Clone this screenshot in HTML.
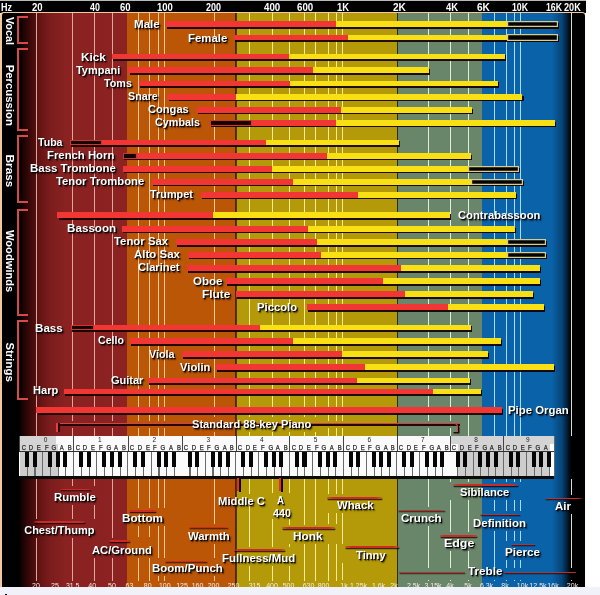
<!DOCTYPE html>
<html><head><meta charset="utf-8"><title>Frequency Chart</title>
<style>
html,body{margin:0;padding:0;background:#fff;}
body{width:600px;height:595px;position:relative;overflow:hidden;font-family:"Liberation Sans", Arial, sans-serif;}
body>div,body>span{position:absolute;}
span{white-space:nowrap;transform-origin:0 0;}
.hd{color:#fff;font-weight:bold;font-size:10.5px;line-height:12px;}
.lb{color:#fff;font-weight:bold;font-size:11px;line-height:14px;text-shadow:1px 1px 0 rgba(0,0,0,.92),1.5px 1.5px 1.5px rgba(0,0,0,.7);}
.grp{color:#fff;font-weight:bold;font-size:11px;line-height:14px;transform-origin:0 0;}
.br{width:9px;border:2px solid #d44c4a;border-right:none;}
.nt{color:#262626;font-size:7px;line-height:8px;text-align:center;transform:scaleX(.85);transform-origin:50% 50%;-webkit-text-stroke:0.25px #262626;}
.on{color:#222;font-size:6.5px;line-height:8px;text-align:center;}
.bf{color:#f4ece4;font-size:7px;line-height:8px;top:581.5px;text-align:center;}
</style></head><body>
<div style="left:2.00px;top:13.00px;width:124.60px;height:574.00px;background:linear-gradient(90deg,#000 0px,#000 16.5px,#260505 23px,#440b0b 30px,#641414 38px,#7c1c1c 48px,#8a2222 64px,#8c2222 124.6px);"></div>
<div style="left:126.60px;top:13.00px;width:109.40px;height:574.00px;background:#bb5606;"></div>
<div style="left:236.00px;top:13.00px;width:161.00px;height:574.00px;background:#b49a08;"></div>
<div style="left:397.00px;top:13.00px;width:85.00px;height:574.00px;background:#6a866a;"></div>
<div style="left:482.00px;top:13.00px;width:90.00px;height:574.00px;background:linear-gradient(90deg,#0a62a8 0px,#0a62a8 70px,#074478 80px,#02182c 86px,#000 89px);"></div>
<div style="left:572.00px;top:13.00px;width:13.00px;height:574.00px;background:#000;"></div>
<div style="left:235.40px;top:13.00px;width:1.20px;height:574.00px;background:rgba(50,20,0,0.75);"></div>
<div style="left:396.50px;top:13.00px;width:1.50px;height:574.00px;background:rgba(30,30,0,0.85);"></div>
<div style="left:35.90px;top:13.00px;width:1.25px;height:423.00px;background:#e0a69c;"></div>
<div style="left:35.90px;top:479.00px;width:1.25px;height:39.70px;background:#e0a69c;"></div>
<div style="left:35.90px;top:537.50px;width:1.25px;height:43.00px;background:#e0a69c;"></div>
<div style="left:71.90px;top:13.00px;width:1.25px;height:408.00px;background:#e0a69c;"></div>
<div style="left:71.90px;top:427.50px;width:1.25px;height:8.50px;background:#e0a69c;"></div>
<div style="left:71.90px;top:479.00px;width:1.25px;height:7.00px;background:#e0a69c;"></div>
<div style="left:71.90px;top:505.25px;width:1.25px;height:13.45px;background:#e0a69c;"></div>
<div style="left:71.90px;top:537.50px;width:1.25px;height:43.00px;background:#e0a69c;"></div>
<div style="left:93.90px;top:13.00px;width:1.25px;height:408.00px;background:#e0a69c;"></div>
<div style="left:93.90px;top:427.50px;width:1.25px;height:8.50px;background:#e0a69c;"></div>
<div style="left:93.90px;top:479.00px;width:1.25px;height:7.00px;background:#e0a69c;"></div>
<div style="left:93.90px;top:505.25px;width:1.25px;height:13.45px;background:#e0a69c;"></div>
<div style="left:93.90px;top:557.75px;width:1.25px;height:22.75px;background:#e0a69c;"></div>
<div style="left:111.90px;top:13.00px;width:1.25px;height:408.00px;background:#e0a69c;"></div>
<div style="left:111.90px;top:427.50px;width:1.25px;height:8.50px;background:#e0a69c;"></div>
<div style="left:111.90px;top:479.00px;width:1.25px;height:58.50px;background:#e0a69c;"></div>
<div style="left:111.90px;top:557.75px;width:1.25px;height:22.75px;background:#e0a69c;"></div>
<div style="left:137.90px;top:13.00px;width:1.25px;height:408.00px;background:#f8c890;"></div>
<div style="left:137.90px;top:427.50px;width:1.25px;height:8.50px;background:#f8c890;"></div>
<div style="left:137.90px;top:479.00px;width:1.25px;height:28.50px;background:#f8c890;"></div>
<div style="left:137.90px;top:525.80px;width:1.25px;height:11.70px;background:#f8c890;"></div>
<div style="left:137.90px;top:557.75px;width:1.25px;height:22.75px;background:#f8c890;"></div>
<div style="left:148.90px;top:13.00px;width:1.25px;height:408.00px;background:#f8c890;"></div>
<div style="left:148.90px;top:427.50px;width:1.25px;height:8.50px;background:#f8c890;"></div>
<div style="left:148.90px;top:479.00px;width:1.25px;height:28.50px;background:#f8c890;"></div>
<div style="left:148.90px;top:525.80px;width:1.25px;height:11.70px;background:#f8c890;"></div>
<div style="left:148.90px;top:557.75px;width:1.25px;height:22.75px;background:#f8c890;"></div>
<div style="left:157.90px;top:13.00px;width:1.25px;height:408.00px;background:#f8c890;"></div>
<div style="left:157.90px;top:427.50px;width:1.25px;height:8.50px;background:#f8c890;"></div>
<div style="left:157.90px;top:479.00px;width:1.25px;height:28.50px;background:#f8c890;"></div>
<div style="left:157.90px;top:525.80px;width:1.25px;height:32.20px;background:#f8c890;"></div>
<div style="left:157.90px;top:575.50px;width:1.25px;height:5.00px;background:#f8c890;"></div>
<div style="left:163.90px;top:13.00px;width:1.25px;height:408.00px;background:#f8c890;"></div>
<div style="left:163.90px;top:427.50px;width:1.25px;height:8.50px;background:#f8c890;"></div>
<div style="left:163.90px;top:479.00px;width:1.25px;height:28.50px;background:#f8c890;"></div>
<div style="left:163.90px;top:525.80px;width:1.25px;height:32.20px;background:#f8c890;"></div>
<div style="left:163.90px;top:575.50px;width:1.25px;height:5.00px;background:#f8c890;"></div>
<div style="left:213.90px;top:13.00px;width:1.25px;height:404.00px;background:#f8c890;"></div>
<div style="left:213.90px;top:432.00px;width:1.25px;height:4.00px;background:#f8c890;"></div>
<div style="left:213.90px;top:479.00px;width:1.25px;height:45.00px;background:#f8c890;"></div>
<div style="left:213.90px;top:543.50px;width:1.25px;height:14.50px;background:#f8c890;"></div>
<div style="left:213.90px;top:575.50px;width:1.25px;height:5.00px;background:#f8c890;"></div>
<div style="left:248.90px;top:13.00px;width:1.25px;height:404.00px;background:#f8ec90;"></div>
<div style="left:248.90px;top:432.00px;width:1.25px;height:4.00px;background:#f8ec90;"></div>
<div style="left:248.90px;top:479.00px;width:1.25px;height:15.00px;background:#f8ec90;"></div>
<div style="left:248.90px;top:506.00px;width:1.25px;height:40.50px;background:#f8ec90;"></div>
<div style="left:248.90px;top:565.50px;width:1.25px;height:15.00px;background:#f8ec90;"></div>
<div style="left:271.90px;top:13.00px;width:1.25px;height:404.00px;background:#f8ec90;"></div>
<div style="left:271.90px;top:432.00px;width:1.25px;height:4.00px;background:#f8ec90;"></div>
<div style="left:271.90px;top:479.00px;width:1.25px;height:14.00px;background:#f8ec90;"></div>
<div style="left:271.90px;top:519.00px;width:1.25px;height:27.50px;background:#f8ec90;"></div>
<div style="left:271.90px;top:565.50px;width:1.25px;height:15.00px;background:#f8ec90;"></div>
<div style="left:288.90px;top:13.00px;width:1.25px;height:404.00px;background:#f8ec90;"></div>
<div style="left:288.90px;top:432.00px;width:1.25px;height:4.00px;background:#f8ec90;"></div>
<div style="left:288.90px;top:479.00px;width:1.25px;height:14.00px;background:#f8ec90;"></div>
<div style="left:288.90px;top:519.00px;width:1.25px;height:5.50px;background:#f8ec90;"></div>
<div style="left:288.90px;top:544.00px;width:1.25px;height:2.50px;background:#f8ec90;"></div>
<div style="left:288.90px;top:565.50px;width:1.25px;height:15.00px;background:#f8ec90;"></div>
<div style="left:303.90px;top:13.00px;width:1.25px;height:404.00px;background:#f8ec90;"></div>
<div style="left:303.90px;top:432.00px;width:1.25px;height:4.00px;background:#f8ec90;"></div>
<div style="left:303.90px;top:479.00px;width:1.25px;height:45.50px;background:#f8ec90;"></div>
<div style="left:303.90px;top:544.00px;width:1.25px;height:36.50px;background:#f8ec90;"></div>
<div style="left:314.90px;top:13.00px;width:1.25px;height:404.00px;background:#f8ec90;"></div>
<div style="left:314.90px;top:432.00px;width:1.25px;height:4.00px;background:#f8ec90;"></div>
<div style="left:314.90px;top:479.00px;width:1.25px;height:45.50px;background:#f8ec90;"></div>
<div style="left:314.90px;top:544.00px;width:1.25px;height:36.50px;background:#f8ec90;"></div>
<div style="left:327.90px;top:13.00px;width:1.25px;height:408.00px;background:#f8ec90;"></div>
<div style="left:327.90px;top:427.50px;width:1.25px;height:8.50px;background:#f8ec90;"></div>
<div style="left:327.90px;top:479.00px;width:1.25px;height:15.30px;background:#f8ec90;"></div>
<div style="left:327.90px;top:513.30px;width:1.25px;height:11.20px;background:#f8ec90;"></div>
<div style="left:327.90px;top:544.00px;width:1.25px;height:36.50px;background:#f8ec90;"></div>
<div style="left:335.90px;top:13.00px;width:1.25px;height:408.00px;background:#f8ec90;"></div>
<div style="left:335.90px;top:427.50px;width:1.25px;height:8.50px;background:#f8ec90;"></div>
<div style="left:335.90px;top:479.00px;width:1.25px;height:15.30px;background:#f8ec90;"></div>
<div style="left:335.90px;top:513.30px;width:1.25px;height:11.20px;background:#f8ec90;"></div>
<div style="left:335.90px;top:544.00px;width:1.25px;height:36.50px;background:#f8ec90;"></div>
<div style="left:341.90px;top:13.00px;width:1.25px;height:408.00px;background:#f8ec90;"></div>
<div style="left:341.90px;top:427.50px;width:1.25px;height:8.50px;background:#f8ec90;"></div>
<div style="left:341.90px;top:479.00px;width:1.25px;height:15.30px;background:#f8ec90;"></div>
<div style="left:341.90px;top:513.30px;width:1.25px;height:30.40px;background:#f8ec90;"></div>
<div style="left:341.90px;top:562.70px;width:1.25px;height:17.80px;background:#f8ec90;"></div>
<div style="left:427.90px;top:13.00px;width:1.25px;height:408.00px;background:#e0f0d8;"></div>
<div style="left:427.90px;top:427.50px;width:1.25px;height:8.50px;background:#e0f0d8;"></div>
<div style="left:427.90px;top:479.00px;width:1.25px;height:28.00px;background:#e0f0d8;"></div>
<div style="left:427.90px;top:526.00px;width:1.25px;height:42.00px;background:#e0f0d8;"></div>
<div style="left:427.90px;top:580.00px;width:1.25px;height:0.50px;background:#e0f0d8;"></div>
<div style="left:449.90px;top:13.00px;width:1.25px;height:408.00px;background:#e0f0d8;"></div>
<div style="left:449.90px;top:427.50px;width:1.25px;height:8.50px;background:#e0f0d8;"></div>
<div style="left:449.90px;top:479.00px;width:1.25px;height:2.70px;background:#e0f0d8;"></div>
<div style="left:449.90px;top:499.80px;width:1.25px;height:32.70px;background:#e0f0d8;"></div>
<div style="left:449.90px;top:551.00px;width:1.25px;height:17.00px;background:#e0f0d8;"></div>
<div style="left:449.90px;top:580.00px;width:1.25px;height:0.50px;background:#e0f0d8;"></div>
<div style="left:467.90px;top:13.00px;width:1.25px;height:423.00px;background:#e0f0d8;"></div>
<div style="left:467.90px;top:479.00px;width:1.25px;height:2.70px;background:#e0f0d8;"></div>
<div style="left:467.90px;top:499.80px;width:1.25px;height:32.70px;background:#e0f0d8;"></div>
<div style="left:467.90px;top:551.00px;width:1.25px;height:17.00px;background:#e0f0d8;"></div>
<div style="left:467.90px;top:580.00px;width:1.25px;height:0.50px;background:#e0f0d8;"></div>
<div style="left:493.90px;top:13.00px;width:1.25px;height:423.00px;background:#a8dcfc;"></div>
<div style="left:493.90px;top:479.00px;width:1.25px;height:2.70px;background:#a8dcfc;"></div>
<div style="left:493.90px;top:499.80px;width:1.25px;height:11.40px;background:#a8dcfc;"></div>
<div style="left:493.90px;top:530.50px;width:1.25px;height:37.50px;background:#a8dcfc;"></div>
<div style="left:493.90px;top:580.00px;width:1.25px;height:0.50px;background:#a8dcfc;"></div>
<div style="left:505.90px;top:13.00px;width:1.25px;height:423.00px;background:#a8dcfc;"></div>
<div style="left:505.90px;top:479.00px;width:1.25px;height:2.70px;background:#a8dcfc;"></div>
<div style="left:505.90px;top:499.80px;width:1.25px;height:11.40px;background:#a8dcfc;"></div>
<div style="left:505.90px;top:530.50px;width:1.25px;height:10.50px;background:#a8dcfc;"></div>
<div style="left:505.90px;top:560.20px;width:1.25px;height:7.80px;background:#a8dcfc;"></div>
<div style="left:505.90px;top:580.00px;width:1.25px;height:0.50px;background:#a8dcfc;"></div>
<div style="left:513.90px;top:13.00px;width:1.25px;height:423.00px;background:#a8dcfc;"></div>
<div style="left:513.90px;top:479.00px;width:1.25px;height:2.70px;background:#a8dcfc;"></div>
<div style="left:513.90px;top:499.80px;width:1.25px;height:11.40px;background:#a8dcfc;"></div>
<div style="left:513.90px;top:530.50px;width:1.25px;height:10.50px;background:#a8dcfc;"></div>
<div style="left:513.90px;top:560.20px;width:1.25px;height:7.80px;background:#a8dcfc;"></div>
<div style="left:513.90px;top:580.00px;width:1.25px;height:0.50px;background:#a8dcfc;"></div>
<div style="left:519.90px;top:13.00px;width:1.25px;height:423.00px;background:#a8dcfc;"></div>
<div style="left:519.90px;top:479.00px;width:1.25px;height:2.70px;background:#a8dcfc;"></div>
<div style="left:519.90px;top:499.80px;width:1.25px;height:11.40px;background:#a8dcfc;"></div>
<div style="left:519.90px;top:530.50px;width:1.25px;height:10.50px;background:#a8dcfc;"></div>
<div style="left:519.90px;top:560.20px;width:1.25px;height:7.80px;background:#a8dcfc;"></div>
<div style="left:519.90px;top:580.00px;width:1.25px;height:0.50px;background:#a8dcfc;"></div>
<div style="left:570.90px;top:13.00px;width:1.25px;height:423.00px;background:#dcdcd4;"></div>
<div style="left:570.90px;top:479.00px;width:1.25px;height:16.00px;background:#dcdcd4;"></div>
<div style="left:570.90px;top:514.00px;width:1.25px;height:54.00px;background:#dcdcd4;"></div>
<div style="left:570.90px;top:580.00px;width:1.25px;height:0.50px;background:#dcdcd4;"></div>
<div style="left:0;top:0;width:586px;height:13px;background:#000;border-top:1px solid #b8b8b8;box-sizing:border-box"></div>
<div style="left:0;top:12px;width:585.5px;height:575px;border:solid #f2c8a0;border-right-color:#fffbea;border-width:1.5px 1px 0 2px;border-radius:4px 4px 0 0;box-sizing:border-box"></div>
<div class="br" style="left:16.8px;top:16.30px;height:24.20px"></div>
<div class="br" style="left:16.8px;top:48.00px;height:78.70px"></div>
<div class="br" style="left:16.8px;top:135.40px;height:63.30px"></div>
<div class="br" style="left:16.8px;top:208.70px;height:103.00px"></div>
<div class="br" style="left:16.8px;top:320.40px;height:75.60px"></div>
<div style="left:166.70px;top:23.00px;width:392.50px;height:5.80px;background:rgba(20,0,0,0.92);"></div>
<div style="left:165.50px;top:21.30px;width:392.50px;height:5.80px;background:#f23634;"></div>
<div style="left:335.50px;top:21.30px;width:171.50px;height:5.80px;background:#f8e014;"></div>
<div style="left:506.50px;top:21.00px;width:51.50px;height:6.40px;background:#050300;box-shadow:inset 0 0 0 1.2px #d4cc92"></div>
<div style="left:235.20px;top:36.40px;width:324.00px;height:5.80px;background:rgba(20,0,0,0.92);"></div>
<div style="left:234.00px;top:34.70px;width:324.00px;height:5.80px;background:#f23634;"></div>
<div style="left:347.50px;top:34.70px;width:159.50px;height:5.80px;background:#f8e014;"></div>
<div style="left:506.50px;top:34.40px;width:51.50px;height:6.40px;background:#050300;box-shadow:inset 0 0 0 1.2px #d4cc92"></div>
<div style="left:113.20px;top:55.40px;width:392.50px;height:5.80px;background:rgba(20,0,0,0.92);"></div>
<div style="left:112.00px;top:53.70px;width:392.50px;height:5.80px;background:#f23634;"></div>
<div style="left:288.50px;top:53.70px;width:216.00px;height:5.80px;background:#f8e014;"></div>
<div style="left:129.50px;top:68.90px;width:300.45px;height:5.80px;background:rgba(20,0,0,0.92);"></div>
<div style="left:128.30px;top:67.20px;width:300.45px;height:5.80px;background:#f23634;"></div>
<div style="left:312.50px;top:67.20px;width:116.25px;height:5.80px;background:#f8e014;"></div>
<div style="left:140.20px;top:82.40px;width:359.00px;height:5.80px;background:rgba(20,0,0,0.92);"></div>
<div style="left:139.00px;top:80.70px;width:359.00px;height:5.80px;background:#f23634;"></div>
<div style="left:289.50px;top:80.70px;width:208.50px;height:5.80px;background:#f8e014;"></div>
<div style="left:168.50px;top:95.50px;width:355.20px;height:5.80px;background:rgba(20,0,0,0.92);"></div>
<div style="left:167.30px;top:93.80px;width:355.20px;height:5.80px;background:#f23634;"></div>
<div style="left:235.70px;top:93.80px;width:286.80px;height:5.80px;background:#f8e014;"></div>
<div style="left:197.80px;top:108.60px;width:275.40px;height:5.80px;background:rgba(20,0,0,0.92);"></div>
<div style="left:196.60px;top:106.90px;width:275.40px;height:5.80px;background:#f23634;"></div>
<div style="left:341.00px;top:106.90px;width:131.00px;height:5.80px;background:#f8e014;"></div>
<div style="left:211.20px;top:121.50px;width:345.00px;height:5.80px;background:rgba(20,0,0,0.92);"></div>
<div style="left:210.00px;top:119.80px;width:41.70px;height:5.80px;background:#140303;box-shadow:inset 0 0 0 1px #d0342a"></div>
<div style="left:251.70px;top:119.80px;width:303.30px;height:5.80px;background:#f23634;"></div>
<div style="left:336.00px;top:119.80px;width:219.00px;height:5.80px;background:#f8e014;"></div>
<div style="left:71.20px;top:141.20px;width:328.75px;height:5.80px;background:rgba(20,0,0,0.92);"></div>
<div style="left:70.00px;top:139.50px;width:32.00px;height:5.80px;background:#140303;box-shadow:inset 0 0 0 1px #d0342a"></div>
<div style="left:102.00px;top:139.50px;width:296.75px;height:5.80px;background:#f23634;"></div>
<div style="left:266.25px;top:139.50px;width:132.50px;height:5.80px;background:#f8e014;"></div>
<div style="left:124.20px;top:154.50px;width:347.75px;height:5.80px;background:rgba(20,0,0,0.92);"></div>
<div style="left:123.00px;top:152.80px;width:13.70px;height:5.80px;background:#140303;box-shadow:inset 0 0 0 1px #d0342a"></div>
<div style="left:136.70px;top:152.80px;width:334.05px;height:5.80px;background:#f23634;"></div>
<div style="left:327.00px;top:152.80px;width:143.75px;height:5.80px;background:#f8e014;"></div>
<div style="left:123.90px;top:167.60px;width:396.05px;height:5.80px;background:rgba(20,0,0,0.92);"></div>
<div style="left:122.70px;top:165.90px;width:396.05px;height:5.80px;background:#f23634;"></div>
<div style="left:272.00px;top:165.90px;width:196.00px;height:5.80px;background:#f8e014;"></div>
<div style="left:467.50px;top:165.60px;width:51.25px;height:6.40px;background:#050300;box-shadow:inset 0 0 0 1.2px #d4cc92"></div>
<div style="left:153.20px;top:180.60px;width:371.00px;height:5.80px;background:rgba(20,0,0,0.92);"></div>
<div style="left:152.00px;top:178.90px;width:371.00px;height:5.80px;background:#f23634;"></div>
<div style="left:292.50px;top:178.90px;width:178.75px;height:5.80px;background:#f8e014;"></div>
<div style="left:470.75px;top:178.60px;width:52.25px;height:6.40px;background:#050300;box-shadow:inset 0 0 0 1.2px #d4cc92"></div>
<div style="left:202.45px;top:193.70px;width:315.00px;height:5.80px;background:rgba(20,0,0,0.92);"></div>
<div style="left:201.25px;top:192.00px;width:315.00px;height:5.80px;background:#f23634;"></div>
<div style="left:358.00px;top:192.00px;width:158.25px;height:5.80px;background:#f8e014;"></div>
<div style="left:58.50px;top:214.00px;width:392.70px;height:5.80px;background:rgba(20,0,0,0.92);"></div>
<div style="left:57.30px;top:212.30px;width:392.70px;height:5.80px;background:#f23634;"></div>
<div style="left:212.50px;top:212.30px;width:237.50px;height:5.80px;background:#f8e014;"></div>
<div style="left:122.90px;top:227.50px;width:392.80px;height:5.80px;background:rgba(20,0,0,0.92);"></div>
<div style="left:121.70px;top:225.80px;width:392.80px;height:5.80px;background:#f23634;"></div>
<div style="left:308.00px;top:225.80px;width:206.50px;height:5.80px;background:#f8e014;"></div>
<div style="left:177.20px;top:240.80px;width:369.50px;height:5.80px;background:rgba(20,0,0,0.92);"></div>
<div style="left:176.00px;top:239.10px;width:369.50px;height:5.80px;background:#f23634;"></div>
<div style="left:316.75px;top:239.10px;width:190.25px;height:5.80px;background:#f8e014;"></div>
<div style="left:506.50px;top:238.80px;width:39.00px;height:6.40px;background:#050300;box-shadow:inset 0 0 0 1.2px #d4cc92"></div>
<div style="left:188.70px;top:253.70px;width:358.00px;height:5.80px;background:rgba(20,0,0,0.92);"></div>
<div style="left:187.50px;top:252.00px;width:358.00px;height:5.80px;background:#f23634;"></div>
<div style="left:320.50px;top:252.00px;width:186.50px;height:5.80px;background:#f8e014;"></div>
<div style="left:506.50px;top:251.70px;width:39.00px;height:6.40px;background:#050300;box-shadow:inset 0 0 0 1.2px #d4cc92"></div>
<div style="left:188.20px;top:266.80px;width:353.00px;height:5.80px;background:rgba(20,0,0,0.92);"></div>
<div style="left:187.00px;top:265.10px;width:353.00px;height:5.80px;background:#f23634;"></div>
<div style="left:400.75px;top:265.10px;width:139.25px;height:5.80px;background:#f8e014;"></div>
<div style="left:227.20px;top:279.90px;width:314.00px;height:5.80px;background:rgba(20,0,0,0.92);"></div>
<div style="left:226.00px;top:278.20px;width:314.00px;height:5.80px;background:#f23634;"></div>
<div style="left:383.00px;top:278.20px;width:157.00px;height:5.80px;background:#f8e014;"></div>
<div style="left:237.00px;top:292.80px;width:297.45px;height:5.80px;background:rgba(20,0,0,0.92);"></div>
<div style="left:235.80px;top:291.10px;width:297.45px;height:5.80px;background:#f23634;"></div>
<div style="left:405.00px;top:291.10px;width:128.25px;height:5.80px;background:#f8e014;"></div>
<div style="left:308.20px;top:306.10px;width:236.75px;height:5.80px;background:rgba(20,0,0,0.92);"></div>
<div style="left:307.00px;top:304.40px;width:236.75px;height:5.80px;background:#f23634;"></div>
<div style="left:448.00px;top:304.40px;width:95.75px;height:5.80px;background:#f8e014;"></div>
<div style="left:71.70px;top:326.30px;width:400.25px;height:5.80px;background:rgba(20,0,0,0.92);"></div>
<div style="left:70.50px;top:324.60px;width:23.50px;height:5.80px;background:#140303;box-shadow:inset 0 0 0 1px #d0342a"></div>
<div style="left:94.00px;top:324.60px;width:376.75px;height:5.80px;background:#f23634;"></div>
<div style="left:260.00px;top:324.60px;width:210.75px;height:5.80px;background:#f8e014;"></div>
<div style="left:130.70px;top:339.80px;width:371.25px;height:5.80px;background:rgba(20,0,0,0.92);"></div>
<div style="left:129.50px;top:338.10px;width:371.25px;height:5.80px;background:#f23634;"></div>
<div style="left:292.50px;top:338.10px;width:208.25px;height:5.80px;background:#f8e014;"></div>
<div style="left:183.40px;top:352.90px;width:306.05px;height:5.80px;background:rgba(20,0,0,0.92);"></div>
<div style="left:182.20px;top:351.20px;width:306.05px;height:5.80px;background:#f23634;"></div>
<div style="left:342.00px;top:351.20px;width:146.25px;height:5.80px;background:#f8e014;"></div>
<div style="left:216.70px;top:366.00px;width:338.75px;height:5.80px;background:rgba(20,0,0,0.92);"></div>
<div style="left:215.50px;top:364.30px;width:338.75px;height:5.80px;background:#f23634;"></div>
<div style="left:364.50px;top:364.30px;width:189.75px;height:5.80px;background:#f8e014;"></div>
<div style="left:149.40px;top:379.30px;width:321.80px;height:5.80px;background:rgba(20,0,0,0.92);"></div>
<div style="left:148.20px;top:377.60px;width:321.80px;height:5.80px;background:#f23634;"></div>
<div style="left:357.00px;top:377.60px;width:113.00px;height:5.80px;background:#f8e014;"></div>
<div style="left:65.40px;top:390.30px;width:417.05px;height:5.80px;background:rgba(20,0,0,0.92);"></div>
<div style="left:64.20px;top:388.60px;width:417.05px;height:5.80px;background:#f23634;"></div>
<div style="left:432.75px;top:388.60px;width:48.50px;height:5.80px;background:#f8e014;"></div>
<div style="left:37.50px;top:408.90px;width:465.45px;height:5.80px;background:rgba(20,0,0,0.92);"></div>
<div style="left:36.30px;top:407.20px;width:465.45px;height:5.80px;background:#f23634;"></div>
<div style="left:57.50px;top:422.80px;width:402.00px;height:1.20px;background:#c84848;"></div>
<div style="left:57.50px;top:424.00px;width:402.00px;height:1.90px;background:#2a0404;"></div>
<div style="left:56.00px;top:422.80px;width:2.30px;height:9.60px;background:#ee3a3a;box-shadow:1.8px 0 0 #1a0202"></div>
<div style="left:452px;top:422.8px;width:5px;height:8px;border:solid #c84848;border-width:1.2px 1.2px 0 0;border-radius:0 4px 0 0;box-shadow:1.5px 1.5px 0 #2a0404"></div>
<div style="left:19.00px;top:436.20px;width:535.00px;height:39.80px;background:#fff;"></div>
<div style="left:19.60px;top:436.20px;width:54.00px;height:8.00px;background:#fafafa;"></div>
<div style="left:19.60px;top:436.20px;width:36.64px;height:8.00px;background:#d4d4d4;"></div>
<div style="left:19.60px;top:451.80px;width:8.21px;height:24.20px;background:#cdcdcd;"></div>
<div style="left:19.60px;top:444.20px;width:8.21px;height:7.60px;background:#d4d4d4;"></div>
<div style="left:27.31px;top:451.80px;width:8.21px;height:24.20px;background:#cdcdcd;"></div>
<div style="left:27.31px;top:444.20px;width:8.21px;height:7.60px;background:#d4d4d4;"></div>
<div style="left:35.03px;top:451.80px;width:8.21px;height:24.20px;background:#cdcdcd;"></div>
<div style="left:35.03px;top:444.20px;width:8.21px;height:7.60px;background:#d4d4d4;"></div>
<div style="left:42.74px;top:451.80px;width:8.21px;height:24.20px;background:#cdcdcd;"></div>
<div style="left:42.74px;top:444.20px;width:8.21px;height:7.60px;background:#d4d4d4;"></div>
<div style="left:50.46px;top:451.80px;width:8.21px;height:24.20px;background:#cdcdcd;"></div>
<div style="left:50.46px;top:444.20px;width:8.21px;height:7.60px;background:#d4d4d4;"></div>
<div style="left:58.17px;top:451.80px;width:8.21px;height:24.20px;background:#fbfbfb;"></div>
<div style="left:58.17px;top:444.20px;width:8.21px;height:7.60px;background:#fafafa;"></div>
<div style="left:65.89px;top:451.80px;width:8.21px;height:24.20px;background:#fbfbfb;"></div>
<div style="left:65.89px;top:444.20px;width:8.21px;height:7.60px;background:#fafafa;"></div>
<div style="left:26.71px;top:451.80px;width:1.10px;height:24.20px;background:#6a6a6a;"></div>
<span class="nt" style="left:18.60px;top:443.80px;width:9.71px">C</span>
<div style="left:34.43px;top:451.80px;width:1.10px;height:24.20px;background:#6a6a6a;"></div>
<span class="nt" style="left:26.31px;top:443.80px;width:9.71px">D</span>
<div style="left:42.14px;top:451.80px;width:1.10px;height:24.20px;background:#6a6a6a;"></div>
<span class="nt" style="left:34.03px;top:443.80px;width:9.71px">E</span>
<div style="left:49.86px;top:451.80px;width:1.10px;height:24.20px;background:#6a6a6a;"></div>
<span class="nt" style="left:41.74px;top:443.80px;width:9.71px">F</span>
<div style="left:57.57px;top:451.80px;width:1.10px;height:24.20px;background:#6a6a6a;"></div>
<span class="nt" style="left:49.46px;top:443.80px;width:9.71px">G</span>
<div style="left:65.29px;top:451.80px;width:1.10px;height:24.20px;background:#6a6a6a;"></div>
<span class="nt" style="left:57.17px;top:443.80px;width:9.71px">A</span>
<div style="left:73.00px;top:451.80px;width:1.10px;height:24.20px;background:#6a6a6a;"></div>
<span class="nt" style="left:64.89px;top:443.80px;width:9.71px">B</span>
<span class="on" style="left:18.60px;top:436.20px;width:54.00px">0</span>
<div style="left:19.10px;top:436.20px;width:1.00px;height:15.60px;background:#444;"></div>
<div style="left:24.81px;top:451.80px;width:4.10px;height:15.00px;background:#050505;"></div>
<div style="left:32.53px;top:451.80px;width:4.10px;height:15.00px;background:#050505;"></div>
<div style="left:47.96px;top:451.80px;width:4.10px;height:15.00px;background:#050505;"></div>
<div style="left:55.67px;top:451.80px;width:4.10px;height:15.00px;background:#050505;"></div>
<div style="left:63.39px;top:451.80px;width:4.10px;height:15.00px;background:#050505;"></div>
<div style="left:73.60px;top:436.20px;width:54.40px;height:8.00px;background:#fafafa;"></div>
<div style="left:73.60px;top:451.80px;width:8.27px;height:24.20px;background:#fbfbfb;"></div>
<div style="left:73.60px;top:444.20px;width:8.27px;height:7.60px;background:#fafafa;"></div>
<div style="left:81.37px;top:451.80px;width:8.27px;height:24.20px;background:#fbfbfb;"></div>
<div style="left:81.37px;top:444.20px;width:8.27px;height:7.60px;background:#fafafa;"></div>
<div style="left:89.14px;top:451.80px;width:8.27px;height:24.20px;background:#fbfbfb;"></div>
<div style="left:89.14px;top:444.20px;width:8.27px;height:7.60px;background:#fafafa;"></div>
<div style="left:96.91px;top:451.80px;width:8.27px;height:24.20px;background:#fbfbfb;"></div>
<div style="left:96.91px;top:444.20px;width:8.27px;height:7.60px;background:#fafafa;"></div>
<div style="left:104.69px;top:451.80px;width:8.27px;height:24.20px;background:#fbfbfb;"></div>
<div style="left:104.69px;top:444.20px;width:8.27px;height:7.60px;background:#fafafa;"></div>
<div style="left:112.46px;top:451.80px;width:8.27px;height:24.20px;background:#fbfbfb;"></div>
<div style="left:112.46px;top:444.20px;width:8.27px;height:7.60px;background:#fafafa;"></div>
<div style="left:120.23px;top:451.80px;width:8.27px;height:24.20px;background:#fbfbfb;"></div>
<div style="left:120.23px;top:444.20px;width:8.27px;height:7.60px;background:#fafafa;"></div>
<div style="left:80.77px;top:451.80px;width:1.10px;height:24.20px;background:#6a6a6a;"></div>
<span class="nt" style="left:72.60px;top:443.80px;width:9.77px">C</span>
<div style="left:88.54px;top:451.80px;width:1.10px;height:24.20px;background:#6a6a6a;"></div>
<span class="nt" style="left:80.37px;top:443.80px;width:9.77px">D</span>
<div style="left:96.31px;top:451.80px;width:1.10px;height:24.20px;background:#6a6a6a;"></div>
<span class="nt" style="left:88.14px;top:443.80px;width:9.77px">E</span>
<div style="left:104.09px;top:451.80px;width:1.10px;height:24.20px;background:#6a6a6a;"></div>
<span class="nt" style="left:95.91px;top:443.80px;width:9.77px">F</span>
<div style="left:111.86px;top:451.80px;width:1.10px;height:24.20px;background:#6a6a6a;"></div>
<span class="nt" style="left:103.69px;top:443.80px;width:9.77px">G</span>
<div style="left:119.63px;top:451.80px;width:1.10px;height:24.20px;background:#6a6a6a;"></div>
<span class="nt" style="left:111.46px;top:443.80px;width:9.77px">A</span>
<div style="left:127.40px;top:451.80px;width:1.10px;height:24.20px;background:#6a6a6a;"></div>
<span class="nt" style="left:119.23px;top:443.80px;width:9.77px">B</span>
<span class="on" style="left:72.60px;top:436.20px;width:54.40px">1</span>
<div style="left:73.10px;top:436.20px;width:1.00px;height:15.60px;background:#444;"></div>
<div style="left:78.87px;top:451.80px;width:4.10px;height:15.00px;background:#050505;"></div>
<div style="left:86.64px;top:451.80px;width:4.10px;height:15.00px;background:#050505;"></div>
<div style="left:102.19px;top:451.80px;width:4.10px;height:15.00px;background:#050505;"></div>
<div style="left:109.96px;top:451.80px;width:4.10px;height:15.00px;background:#050505;"></div>
<div style="left:117.73px;top:451.80px;width:4.10px;height:15.00px;background:#050505;"></div>
<div style="left:128.00px;top:436.20px;width:54.40px;height:8.00px;background:#fafafa;"></div>
<div style="left:128.00px;top:451.80px;width:8.27px;height:24.20px;background:#fbfbfb;"></div>
<div style="left:128.00px;top:444.20px;width:8.27px;height:7.60px;background:#fafafa;"></div>
<div style="left:135.77px;top:451.80px;width:8.27px;height:24.20px;background:#fbfbfb;"></div>
<div style="left:135.77px;top:444.20px;width:8.27px;height:7.60px;background:#fafafa;"></div>
<div style="left:143.54px;top:451.80px;width:8.27px;height:24.20px;background:#fbfbfb;"></div>
<div style="left:143.54px;top:444.20px;width:8.27px;height:7.60px;background:#fafafa;"></div>
<div style="left:151.31px;top:451.80px;width:8.27px;height:24.20px;background:#fbfbfb;"></div>
<div style="left:151.31px;top:444.20px;width:8.27px;height:7.60px;background:#fafafa;"></div>
<div style="left:159.09px;top:451.80px;width:8.27px;height:24.20px;background:#fbfbfb;"></div>
<div style="left:159.09px;top:444.20px;width:8.27px;height:7.60px;background:#fafafa;"></div>
<div style="left:166.86px;top:451.80px;width:8.27px;height:24.20px;background:#fbfbfb;"></div>
<div style="left:166.86px;top:444.20px;width:8.27px;height:7.60px;background:#fafafa;"></div>
<div style="left:174.63px;top:451.80px;width:8.27px;height:24.20px;background:#fbfbfb;"></div>
<div style="left:174.63px;top:444.20px;width:8.27px;height:7.60px;background:#fafafa;"></div>
<div style="left:135.17px;top:451.80px;width:1.10px;height:24.20px;background:#6a6a6a;"></div>
<span class="nt" style="left:127.00px;top:443.80px;width:9.77px">C</span>
<div style="left:142.94px;top:451.80px;width:1.10px;height:24.20px;background:#6a6a6a;"></div>
<span class="nt" style="left:134.77px;top:443.80px;width:9.77px">D</span>
<div style="left:150.71px;top:451.80px;width:1.10px;height:24.20px;background:#6a6a6a;"></div>
<span class="nt" style="left:142.54px;top:443.80px;width:9.77px">E</span>
<div style="left:158.49px;top:451.80px;width:1.10px;height:24.20px;background:#6a6a6a;"></div>
<span class="nt" style="left:150.31px;top:443.80px;width:9.77px">F</span>
<div style="left:166.26px;top:451.80px;width:1.10px;height:24.20px;background:#6a6a6a;"></div>
<span class="nt" style="left:158.09px;top:443.80px;width:9.77px">G</span>
<div style="left:174.03px;top:451.80px;width:1.10px;height:24.20px;background:#6a6a6a;"></div>
<span class="nt" style="left:165.86px;top:443.80px;width:9.77px">A</span>
<div style="left:181.80px;top:451.80px;width:1.10px;height:24.20px;background:#6a6a6a;"></div>
<span class="nt" style="left:173.63px;top:443.80px;width:9.77px">B</span>
<span class="on" style="left:127.00px;top:436.20px;width:54.40px">2</span>
<div style="left:127.50px;top:436.20px;width:1.00px;height:15.60px;background:#444;"></div>
<div style="left:133.27px;top:451.80px;width:4.10px;height:15.00px;background:#050505;"></div>
<div style="left:141.04px;top:451.80px;width:4.10px;height:15.00px;background:#050505;"></div>
<div style="left:156.59px;top:451.80px;width:4.10px;height:15.00px;background:#050505;"></div>
<div style="left:164.36px;top:451.80px;width:4.10px;height:15.00px;background:#050505;"></div>
<div style="left:172.13px;top:451.80px;width:4.10px;height:15.00px;background:#050505;"></div>
<div style="left:182.40px;top:436.20px;width:53.60px;height:8.00px;background:#fafafa;"></div>
<div style="left:182.40px;top:451.80px;width:8.16px;height:24.20px;background:#fbfbfb;"></div>
<div style="left:182.40px;top:444.20px;width:8.16px;height:7.60px;background:#fafafa;"></div>
<div style="left:190.06px;top:451.80px;width:8.16px;height:24.20px;background:#fbfbfb;"></div>
<div style="left:190.06px;top:444.20px;width:8.16px;height:7.60px;background:#fafafa;"></div>
<div style="left:197.71px;top:451.80px;width:8.16px;height:24.20px;background:#fbfbfb;"></div>
<div style="left:197.71px;top:444.20px;width:8.16px;height:7.60px;background:#fafafa;"></div>
<div style="left:205.37px;top:451.80px;width:8.16px;height:24.20px;background:#fbfbfb;"></div>
<div style="left:205.37px;top:444.20px;width:8.16px;height:7.60px;background:#fafafa;"></div>
<div style="left:213.03px;top:451.80px;width:8.16px;height:24.20px;background:#fbfbfb;"></div>
<div style="left:213.03px;top:444.20px;width:8.16px;height:7.60px;background:#fafafa;"></div>
<div style="left:220.69px;top:451.80px;width:8.16px;height:24.20px;background:#fbfbfb;"></div>
<div style="left:220.69px;top:444.20px;width:8.16px;height:7.60px;background:#fafafa;"></div>
<div style="left:228.34px;top:451.80px;width:8.16px;height:24.20px;background:#fbfbfb;"></div>
<div style="left:228.34px;top:444.20px;width:8.16px;height:7.60px;background:#fafafa;"></div>
<div style="left:189.46px;top:451.80px;width:1.10px;height:24.20px;background:#6a6a6a;"></div>
<span class="nt" style="left:181.40px;top:443.80px;width:9.66px">C</span>
<div style="left:197.11px;top:451.80px;width:1.10px;height:24.20px;background:#6a6a6a;"></div>
<span class="nt" style="left:189.06px;top:443.80px;width:9.66px">D</span>
<div style="left:204.77px;top:451.80px;width:1.10px;height:24.20px;background:#6a6a6a;"></div>
<span class="nt" style="left:196.71px;top:443.80px;width:9.66px">E</span>
<div style="left:212.43px;top:451.80px;width:1.10px;height:24.20px;background:#6a6a6a;"></div>
<span class="nt" style="left:204.37px;top:443.80px;width:9.66px">F</span>
<div style="left:220.09px;top:451.80px;width:1.10px;height:24.20px;background:#6a6a6a;"></div>
<span class="nt" style="left:212.03px;top:443.80px;width:9.66px">G</span>
<div style="left:227.74px;top:451.80px;width:1.10px;height:24.20px;background:#6a6a6a;"></div>
<span class="nt" style="left:219.69px;top:443.80px;width:9.66px">A</span>
<div style="left:235.40px;top:451.80px;width:1.10px;height:24.20px;background:#6a6a6a;"></div>
<span class="nt" style="left:227.34px;top:443.80px;width:9.66px">B</span>
<span class="on" style="left:181.40px;top:436.20px;width:53.60px">3</span>
<div style="left:181.90px;top:436.20px;width:1.00px;height:15.60px;background:#444;"></div>
<div style="left:187.56px;top:451.80px;width:4.10px;height:15.00px;background:#050505;"></div>
<div style="left:195.21px;top:451.80px;width:4.10px;height:15.00px;background:#050505;"></div>
<div style="left:210.53px;top:451.80px;width:4.10px;height:15.00px;background:#050505;"></div>
<div style="left:218.19px;top:451.80px;width:4.10px;height:15.00px;background:#050505;"></div>
<div style="left:225.84px;top:451.80px;width:4.10px;height:15.00px;background:#050505;"></div>
<div style="left:236.00px;top:436.20px;width:53.50px;height:8.00px;background:#fafafa;"></div>
<div style="left:236.00px;top:451.80px;width:8.14px;height:24.20px;background:#fbfbfb;"></div>
<div style="left:236.00px;top:444.20px;width:8.14px;height:7.60px;background:#fafafa;"></div>
<div style="left:243.64px;top:451.80px;width:8.14px;height:24.20px;background:#fbfbfb;"></div>
<div style="left:243.64px;top:444.20px;width:8.14px;height:7.60px;background:#fafafa;"></div>
<div style="left:251.29px;top:451.80px;width:8.14px;height:24.20px;background:#fbfbfb;"></div>
<div style="left:251.29px;top:444.20px;width:8.14px;height:7.60px;background:#fafafa;"></div>
<div style="left:258.93px;top:451.80px;width:8.14px;height:24.20px;background:#fbfbfb;"></div>
<div style="left:258.93px;top:444.20px;width:8.14px;height:7.60px;background:#fafafa;"></div>
<div style="left:266.57px;top:451.80px;width:8.14px;height:24.20px;background:#fbfbfb;"></div>
<div style="left:266.57px;top:444.20px;width:8.14px;height:7.60px;background:#fafafa;"></div>
<div style="left:274.21px;top:451.80px;width:8.14px;height:24.20px;background:#fbfbfb;"></div>
<div style="left:274.21px;top:444.20px;width:8.14px;height:7.60px;background:#fafafa;"></div>
<div style="left:281.86px;top:451.80px;width:8.14px;height:24.20px;background:#fbfbfb;"></div>
<div style="left:281.86px;top:444.20px;width:8.14px;height:7.60px;background:#fafafa;"></div>
<div style="left:243.04px;top:451.80px;width:1.10px;height:24.20px;background:#6a6a6a;"></div>
<span class="nt" style="left:235.00px;top:443.80px;width:9.64px">C</span>
<div style="left:250.69px;top:451.80px;width:1.10px;height:24.20px;background:#6a6a6a;"></div>
<span class="nt" style="left:242.64px;top:443.80px;width:9.64px">D</span>
<div style="left:258.33px;top:451.80px;width:1.10px;height:24.20px;background:#6a6a6a;"></div>
<span class="nt" style="left:250.29px;top:443.80px;width:9.64px">E</span>
<div style="left:265.97px;top:451.80px;width:1.10px;height:24.20px;background:#6a6a6a;"></div>
<span class="nt" style="left:257.93px;top:443.80px;width:9.64px">F</span>
<div style="left:273.61px;top:451.80px;width:1.10px;height:24.20px;background:#6a6a6a;"></div>
<span class="nt" style="left:265.57px;top:443.80px;width:9.64px">G</span>
<div style="left:281.26px;top:451.80px;width:1.10px;height:24.20px;background:#6a6a6a;"></div>
<span class="nt" style="left:273.21px;top:443.80px;width:9.64px">A</span>
<div style="left:288.90px;top:451.80px;width:1.10px;height:24.20px;background:#6a6a6a;"></div>
<span class="nt" style="left:280.86px;top:443.80px;width:9.64px">B</span>
<span class="on" style="left:235.00px;top:436.20px;width:53.50px">4</span>
<div style="left:235.50px;top:436.20px;width:1.00px;height:15.60px;background:#444;"></div>
<div style="left:241.14px;top:451.80px;width:4.10px;height:15.00px;background:#050505;"></div>
<div style="left:248.79px;top:451.80px;width:4.10px;height:15.00px;background:#050505;"></div>
<div style="left:264.07px;top:451.80px;width:4.10px;height:15.00px;background:#050505;"></div>
<div style="left:271.71px;top:451.80px;width:4.10px;height:15.00px;background:#050505;"></div>
<div style="left:279.36px;top:451.80px;width:4.10px;height:15.00px;background:#050505;"></div>
<div style="left:289.50px;top:436.20px;width:54.10px;height:8.00px;background:#fafafa;"></div>
<div style="left:289.50px;top:451.80px;width:8.23px;height:24.20px;background:#fbfbfb;"></div>
<div style="left:289.50px;top:444.20px;width:8.23px;height:7.60px;background:#fafafa;"></div>
<div style="left:297.23px;top:451.80px;width:8.23px;height:24.20px;background:#fbfbfb;"></div>
<div style="left:297.23px;top:444.20px;width:8.23px;height:7.60px;background:#fafafa;"></div>
<div style="left:304.96px;top:451.80px;width:8.23px;height:24.20px;background:#fbfbfb;"></div>
<div style="left:304.96px;top:444.20px;width:8.23px;height:7.60px;background:#fafafa;"></div>
<div style="left:312.69px;top:451.80px;width:8.23px;height:24.20px;background:#fbfbfb;"></div>
<div style="left:312.69px;top:444.20px;width:8.23px;height:7.60px;background:#fafafa;"></div>
<div style="left:320.41px;top:451.80px;width:8.23px;height:24.20px;background:#fbfbfb;"></div>
<div style="left:320.41px;top:444.20px;width:8.23px;height:7.60px;background:#fafafa;"></div>
<div style="left:328.14px;top:451.80px;width:8.23px;height:24.20px;background:#fbfbfb;"></div>
<div style="left:328.14px;top:444.20px;width:8.23px;height:7.60px;background:#fafafa;"></div>
<div style="left:335.87px;top:451.80px;width:8.23px;height:24.20px;background:#fbfbfb;"></div>
<div style="left:335.87px;top:444.20px;width:8.23px;height:7.60px;background:#fafafa;"></div>
<div style="left:296.63px;top:451.80px;width:1.10px;height:24.20px;background:#6a6a6a;"></div>
<span class="nt" style="left:288.50px;top:443.80px;width:9.73px">C</span>
<div style="left:304.36px;top:451.80px;width:1.10px;height:24.20px;background:#6a6a6a;"></div>
<span class="nt" style="left:296.23px;top:443.80px;width:9.73px">D</span>
<div style="left:312.09px;top:451.80px;width:1.10px;height:24.20px;background:#6a6a6a;"></div>
<span class="nt" style="left:303.96px;top:443.80px;width:9.73px">E</span>
<div style="left:319.81px;top:451.80px;width:1.10px;height:24.20px;background:#6a6a6a;"></div>
<span class="nt" style="left:311.69px;top:443.80px;width:9.73px">F</span>
<div style="left:327.54px;top:451.80px;width:1.10px;height:24.20px;background:#6a6a6a;"></div>
<span class="nt" style="left:319.41px;top:443.80px;width:9.73px">G</span>
<div style="left:335.27px;top:451.80px;width:1.10px;height:24.20px;background:#6a6a6a;"></div>
<span class="nt" style="left:327.14px;top:443.80px;width:9.73px">A</span>
<div style="left:343.00px;top:451.80px;width:1.10px;height:24.20px;background:#6a6a6a;"></div>
<span class="nt" style="left:334.87px;top:443.80px;width:9.73px">B</span>
<span class="on" style="left:288.50px;top:436.20px;width:54.10px">5</span>
<div style="left:289.00px;top:436.20px;width:1.00px;height:15.60px;background:#444;"></div>
<div style="left:294.73px;top:451.80px;width:4.10px;height:15.00px;background:#050505;"></div>
<div style="left:302.46px;top:451.80px;width:4.10px;height:15.00px;background:#050505;"></div>
<div style="left:317.91px;top:451.80px;width:4.10px;height:15.00px;background:#050505;"></div>
<div style="left:325.64px;top:451.80px;width:4.10px;height:15.00px;background:#050505;"></div>
<div style="left:333.37px;top:451.80px;width:4.10px;height:15.00px;background:#050505;"></div>
<div style="left:343.60px;top:436.20px;width:53.40px;height:8.00px;background:#fafafa;"></div>
<div style="left:343.60px;top:451.80px;width:8.13px;height:24.20px;background:#fbfbfb;"></div>
<div style="left:343.60px;top:444.20px;width:8.13px;height:7.60px;background:#fafafa;"></div>
<div style="left:351.23px;top:451.80px;width:8.13px;height:24.20px;background:#fbfbfb;"></div>
<div style="left:351.23px;top:444.20px;width:8.13px;height:7.60px;background:#fafafa;"></div>
<div style="left:358.86px;top:451.80px;width:8.13px;height:24.20px;background:#fbfbfb;"></div>
<div style="left:358.86px;top:444.20px;width:8.13px;height:7.60px;background:#fafafa;"></div>
<div style="left:366.49px;top:451.80px;width:8.13px;height:24.20px;background:#fbfbfb;"></div>
<div style="left:366.49px;top:444.20px;width:8.13px;height:7.60px;background:#fafafa;"></div>
<div style="left:374.11px;top:451.80px;width:8.13px;height:24.20px;background:#fbfbfb;"></div>
<div style="left:374.11px;top:444.20px;width:8.13px;height:7.60px;background:#fafafa;"></div>
<div style="left:381.74px;top:451.80px;width:8.13px;height:24.20px;background:#fbfbfb;"></div>
<div style="left:381.74px;top:444.20px;width:8.13px;height:7.60px;background:#fafafa;"></div>
<div style="left:389.37px;top:451.80px;width:8.13px;height:24.20px;background:#fbfbfb;"></div>
<div style="left:389.37px;top:444.20px;width:8.13px;height:7.60px;background:#fafafa;"></div>
<div style="left:350.63px;top:451.80px;width:1.10px;height:24.20px;background:#6a6a6a;"></div>
<span class="nt" style="left:342.60px;top:443.80px;width:9.63px">C</span>
<div style="left:358.26px;top:451.80px;width:1.10px;height:24.20px;background:#6a6a6a;"></div>
<span class="nt" style="left:350.23px;top:443.80px;width:9.63px">D</span>
<div style="left:365.89px;top:451.80px;width:1.10px;height:24.20px;background:#6a6a6a;"></div>
<span class="nt" style="left:357.86px;top:443.80px;width:9.63px">E</span>
<div style="left:373.51px;top:451.80px;width:1.10px;height:24.20px;background:#6a6a6a;"></div>
<span class="nt" style="left:365.49px;top:443.80px;width:9.63px">F</span>
<div style="left:381.14px;top:451.80px;width:1.10px;height:24.20px;background:#6a6a6a;"></div>
<span class="nt" style="left:373.11px;top:443.80px;width:9.63px">G</span>
<div style="left:388.77px;top:451.80px;width:1.10px;height:24.20px;background:#6a6a6a;"></div>
<span class="nt" style="left:380.74px;top:443.80px;width:9.63px">A</span>
<div style="left:396.40px;top:451.80px;width:1.10px;height:24.20px;background:#6a6a6a;"></div>
<span class="nt" style="left:388.37px;top:443.80px;width:9.63px">B</span>
<span class="on" style="left:342.60px;top:436.20px;width:53.40px">6</span>
<div style="left:343.10px;top:436.20px;width:1.00px;height:15.60px;background:#444;"></div>
<div style="left:348.73px;top:451.80px;width:4.10px;height:15.00px;background:#050505;"></div>
<div style="left:356.36px;top:451.80px;width:4.10px;height:15.00px;background:#050505;"></div>
<div style="left:371.61px;top:451.80px;width:4.10px;height:15.00px;background:#050505;"></div>
<div style="left:379.24px;top:451.80px;width:4.10px;height:15.00px;background:#050505;"></div>
<div style="left:386.87px;top:451.80px;width:4.10px;height:15.00px;background:#050505;"></div>
<div style="left:397.00px;top:436.20px;width:53.40px;height:8.00px;background:#fafafa;"></div>
<div style="left:397.00px;top:451.80px;width:8.13px;height:24.20px;background:#fbfbfb;"></div>
<div style="left:397.00px;top:444.20px;width:8.13px;height:7.60px;background:#fafafa;"></div>
<div style="left:404.63px;top:451.80px;width:8.13px;height:24.20px;background:#fbfbfb;"></div>
<div style="left:404.63px;top:444.20px;width:8.13px;height:7.60px;background:#fafafa;"></div>
<div style="left:412.26px;top:451.80px;width:8.13px;height:24.20px;background:#fbfbfb;"></div>
<div style="left:412.26px;top:444.20px;width:8.13px;height:7.60px;background:#fafafa;"></div>
<div style="left:419.89px;top:451.80px;width:8.13px;height:24.20px;background:#fbfbfb;"></div>
<div style="left:419.89px;top:444.20px;width:8.13px;height:7.60px;background:#fafafa;"></div>
<div style="left:427.51px;top:451.80px;width:8.13px;height:24.20px;background:#fbfbfb;"></div>
<div style="left:427.51px;top:444.20px;width:8.13px;height:7.60px;background:#fafafa;"></div>
<div style="left:435.14px;top:451.80px;width:8.13px;height:24.20px;background:#fbfbfb;"></div>
<div style="left:435.14px;top:444.20px;width:8.13px;height:7.60px;background:#fafafa;"></div>
<div style="left:442.77px;top:451.80px;width:8.13px;height:24.20px;background:#fbfbfb;"></div>
<div style="left:442.77px;top:444.20px;width:8.13px;height:7.60px;background:#fafafa;"></div>
<div style="left:404.03px;top:451.80px;width:1.10px;height:24.20px;background:#6a6a6a;"></div>
<span class="nt" style="left:396.00px;top:443.80px;width:9.63px">C</span>
<div style="left:411.66px;top:451.80px;width:1.10px;height:24.20px;background:#6a6a6a;"></div>
<span class="nt" style="left:403.63px;top:443.80px;width:9.63px">D</span>
<div style="left:419.29px;top:451.80px;width:1.10px;height:24.20px;background:#6a6a6a;"></div>
<span class="nt" style="left:411.26px;top:443.80px;width:9.63px">E</span>
<div style="left:426.91px;top:451.80px;width:1.10px;height:24.20px;background:#6a6a6a;"></div>
<span class="nt" style="left:418.89px;top:443.80px;width:9.63px">F</span>
<div style="left:434.54px;top:451.80px;width:1.10px;height:24.20px;background:#6a6a6a;"></div>
<span class="nt" style="left:426.51px;top:443.80px;width:9.63px">G</span>
<div style="left:442.17px;top:451.80px;width:1.10px;height:24.20px;background:#6a6a6a;"></div>
<span class="nt" style="left:434.14px;top:443.80px;width:9.63px">A</span>
<div style="left:449.80px;top:451.80px;width:1.10px;height:24.20px;background:#6a6a6a;"></div>
<span class="nt" style="left:441.77px;top:443.80px;width:9.63px">B</span>
<span class="on" style="left:396.00px;top:436.20px;width:53.40px">7</span>
<div style="left:396.50px;top:436.20px;width:1.00px;height:15.60px;background:#444;"></div>
<div style="left:402.13px;top:451.80px;width:4.10px;height:15.00px;background:#050505;"></div>
<div style="left:409.76px;top:451.80px;width:4.10px;height:15.00px;background:#050505;"></div>
<div style="left:425.01px;top:451.80px;width:4.10px;height:15.00px;background:#050505;"></div>
<div style="left:432.64px;top:451.80px;width:4.10px;height:15.00px;background:#050505;"></div>
<div style="left:440.27px;top:451.80px;width:4.10px;height:15.00px;background:#050505;"></div>
<div style="left:450.40px;top:436.20px;width:53.20px;height:8.00px;background:#d4d4d4;"></div>
<div style="left:450.40px;top:451.80px;width:8.10px;height:24.20px;background:#fbfbfb;"></div>
<div style="left:450.40px;top:444.20px;width:8.10px;height:7.60px;background:#fafafa;"></div>
<div style="left:458.00px;top:451.80px;width:8.10px;height:24.20px;background:#cdcdcd;"></div>
<div style="left:458.00px;top:444.20px;width:8.10px;height:7.60px;background:#d4d4d4;"></div>
<div style="left:465.60px;top:451.80px;width:8.10px;height:24.20px;background:#cdcdcd;"></div>
<div style="left:465.60px;top:444.20px;width:8.10px;height:7.60px;background:#d4d4d4;"></div>
<div style="left:473.20px;top:451.80px;width:8.10px;height:24.20px;background:#cdcdcd;"></div>
<div style="left:473.20px;top:444.20px;width:8.10px;height:7.60px;background:#d4d4d4;"></div>
<div style="left:480.80px;top:451.80px;width:8.10px;height:24.20px;background:#cdcdcd;"></div>
<div style="left:480.80px;top:444.20px;width:8.10px;height:7.60px;background:#d4d4d4;"></div>
<div style="left:488.40px;top:451.80px;width:8.10px;height:24.20px;background:#cdcdcd;"></div>
<div style="left:488.40px;top:444.20px;width:8.10px;height:7.60px;background:#d4d4d4;"></div>
<div style="left:496.00px;top:451.80px;width:8.10px;height:24.20px;background:#cdcdcd;"></div>
<div style="left:496.00px;top:444.20px;width:8.10px;height:7.60px;background:#d4d4d4;"></div>
<div style="left:457.40px;top:451.80px;width:1.10px;height:24.20px;background:#6a6a6a;"></div>
<span class="nt" style="left:449.40px;top:443.80px;width:9.60px">C</span>
<div style="left:465.00px;top:451.80px;width:1.10px;height:24.20px;background:#6a6a6a;"></div>
<span class="nt" style="left:457.00px;top:443.80px;width:9.60px">D</span>
<div style="left:472.60px;top:451.80px;width:1.10px;height:24.20px;background:#6a6a6a;"></div>
<span class="nt" style="left:464.60px;top:443.80px;width:9.60px">E</span>
<div style="left:480.20px;top:451.80px;width:1.10px;height:24.20px;background:#6a6a6a;"></div>
<span class="nt" style="left:472.20px;top:443.80px;width:9.60px">F</span>
<div style="left:487.80px;top:451.80px;width:1.10px;height:24.20px;background:#6a6a6a;"></div>
<span class="nt" style="left:479.80px;top:443.80px;width:9.60px">G</span>
<div style="left:495.40px;top:451.80px;width:1.10px;height:24.20px;background:#6a6a6a;"></div>
<span class="nt" style="left:487.40px;top:443.80px;width:9.60px">A</span>
<div style="left:503.00px;top:451.80px;width:1.10px;height:24.20px;background:#6a6a6a;"></div>
<span class="nt" style="left:495.00px;top:443.80px;width:9.60px">B</span>
<span class="on" style="left:449.40px;top:436.20px;width:53.20px">8</span>
<div style="left:449.90px;top:436.20px;width:1.00px;height:15.60px;background:#444;"></div>
<div style="left:455.50px;top:451.80px;width:4.10px;height:15.00px;background:#050505;"></div>
<div style="left:463.10px;top:451.80px;width:4.10px;height:15.00px;background:#050505;"></div>
<div style="left:478.30px;top:451.80px;width:4.10px;height:15.00px;background:#050505;"></div>
<div style="left:485.90px;top:451.80px;width:4.10px;height:15.00px;background:#050505;"></div>
<div style="left:493.50px;top:451.80px;width:4.10px;height:15.00px;background:#050505;"></div>
<div style="left:503.60px;top:436.20px;width:50.40px;height:8.00px;background:#d4d4d4;"></div>
<div style="left:503.60px;top:451.80px;width:8.13px;height:24.20px;background:#cdcdcd;"></div>
<div style="left:503.60px;top:444.20px;width:8.13px;height:7.60px;background:#d4d4d4;"></div>
<div style="left:511.23px;top:451.80px;width:8.13px;height:24.20px;background:#cdcdcd;"></div>
<div style="left:511.23px;top:444.20px;width:8.13px;height:7.60px;background:#d4d4d4;"></div>
<div style="left:518.86px;top:451.80px;width:8.13px;height:24.20px;background:#cdcdcd;"></div>
<div style="left:518.86px;top:444.20px;width:8.13px;height:7.60px;background:#d4d4d4;"></div>
<div style="left:526.49px;top:451.80px;width:8.13px;height:24.20px;background:#cdcdcd;"></div>
<div style="left:526.49px;top:444.20px;width:8.13px;height:7.60px;background:#d4d4d4;"></div>
<div style="left:534.11px;top:451.80px;width:8.13px;height:24.20px;background:#cdcdcd;"></div>
<div style="left:534.11px;top:444.20px;width:8.13px;height:7.60px;background:#d4d4d4;"></div>
<div style="left:541.74px;top:451.80px;width:8.13px;height:24.20px;background:#cdcdcd;"></div>
<div style="left:541.74px;top:444.20px;width:8.13px;height:7.60px;background:#d4d4d4;"></div>
<div style="left:510.63px;top:451.80px;width:1.10px;height:24.20px;background:#6a6a6a;"></div>
<span class="nt" style="left:502.60px;top:443.80px;width:9.63px">C</span>
<div style="left:518.26px;top:451.80px;width:1.10px;height:24.20px;background:#6a6a6a;"></div>
<span class="nt" style="left:510.23px;top:443.80px;width:9.63px">D</span>
<div style="left:525.89px;top:451.80px;width:1.10px;height:24.20px;background:#6a6a6a;"></div>
<span class="nt" style="left:517.86px;top:443.80px;width:9.63px">E</span>
<div style="left:533.51px;top:451.80px;width:1.10px;height:24.20px;background:#6a6a6a;"></div>
<span class="nt" style="left:525.49px;top:443.80px;width:9.63px">F</span>
<div style="left:541.14px;top:451.80px;width:1.10px;height:24.20px;background:#6a6a6a;"></div>
<span class="nt" style="left:533.11px;top:443.80px;width:9.63px">G</span>
<div style="left:548.77px;top:451.80px;width:1.10px;height:24.20px;background:#6a6a6a;"></div>
<span class="nt" style="left:540.74px;top:443.80px;width:9.63px">A</span>
<span class="on" style="left:502.60px;top:436.20px;width:50.40px">9</span>
<div style="left:503.10px;top:436.20px;width:1.00px;height:15.60px;background:#444;"></div>
<div style="left:508.73px;top:451.80px;width:4.10px;height:15.00px;background:#050505;"></div>
<div style="left:516.36px;top:451.80px;width:4.10px;height:15.00px;background:#050505;"></div>
<div style="left:531.61px;top:451.80px;width:4.10px;height:15.00px;background:#050505;"></div>
<div style="left:539.24px;top:451.80px;width:4.10px;height:15.00px;background:#050505;"></div>
<div style="left:546.87px;top:451.80px;width:4.10px;height:15.00px;background:#050505;"></div>
<div style="left:19.00px;top:451.20px;width:535.00px;height:1.20px;background:#303030;"></div>
<div style="left:553.50px;top:436.20px;width:1.00px;height:39.80px;background:#666;"></div>
<div style="left:19.00px;top:476.00px;width:535.00px;height:3.00px;background:#0a0a0a;"></div>
<div style="left:239.30px;top:478.00px;width:2.00px;height:14.00px;background:#0a0000;"></div>
<div style="left:237.40px;top:478.00px;width:2.10px;height:12.50px;background:#e8301e;"></div>
<div style="left:280.70px;top:478.00px;width:2.00px;height:14.00px;background:#0a0000;"></div>
<div style="left:278.80px;top:478.00px;width:2.10px;height:12.50px;background:#e8301e;"></div>
<div style="left:59.75px;top:488.60px;width:30.75px;height:1.70px;background:linear-gradient(90deg,rgba(200,40,36,.5),#cc2a26 12%,#cc2a26 88%,rgba(200,40,36,.5));border-radius:1px;box-shadow:0.5px 1.2px 0.5px rgba(0,0,0,.7)"></div>
<div style="left:34.25px;top:521.30px;width:51.00px;height:1.70px;background:linear-gradient(90deg,rgba(200,40,36,.5),#cc2a26 12%,#cc2a26 88%,rgba(200,40,36,.5));border-radius:1px;box-shadow:0.5px 1.2px 0.5px rgba(0,0,0,.7)"></div>
<div style="left:129.25px;top:510.10px;width:26.25px;height:1.70px;background:linear-gradient(90deg,rgba(200,40,36,.5),#cc2a26 12%,#cc2a26 88%,rgba(200,40,36,.5));border-radius:1px;box-shadow:0.5px 1.2px 0.5px rgba(0,0,0,.7)"></div>
<div style="left:109.00px;top:540.10px;width:21.00px;height:1.70px;background:linear-gradient(90deg,rgba(200,40,36,.5),#cc2a26 12%,#cc2a26 88%,rgba(200,40,36,.5));border-radius:1px;box-shadow:0.5px 1.2px 0.5px rgba(0,0,0,.7)"></div>
<div style="left:189.00px;top:526.60px;width:39.00px;height:1.70px;background:linear-gradient(90deg,rgba(200,40,36,.5),#cc2a26 12%,#cc2a26 88%,rgba(200,40,36,.5));border-radius:1px;box-shadow:0.5px 1.2px 0.5px rgba(0,0,0,.7)"></div>
<div style="left:165.00px;top:560.60px;width:42.00px;height:1.70px;background:linear-gradient(90deg,rgba(200,40,36,.5),#cc2a26 12%,#cc2a26 88%,rgba(200,40,36,.5));border-radius:1px;box-shadow:0.5px 1.2px 0.5px rgba(0,0,0,.7)"></div>
<div style="left:234.00px;top:549.10px;width:51.00px;height:1.70px;background:linear-gradient(90deg,rgba(200,40,36,.5),#cc2a26 12%,#cc2a26 88%,rgba(200,40,36,.5));border-radius:1px;box-shadow:0.5px 1.2px 0.5px rgba(0,0,0,.7)"></div>
<div style="left:282.00px;top:527.10px;width:53.00px;height:1.70px;background:linear-gradient(90deg,rgba(200,40,36,.5),#cc2a26 12%,#cc2a26 88%,rgba(200,40,36,.5));border-radius:1px;box-shadow:0.5px 1.2px 0.5px rgba(0,0,0,.7)"></div>
<div style="left:327.00px;top:496.90px;width:55.00px;height:1.70px;background:linear-gradient(90deg,rgba(200,40,36,.5),#cc2a26 12%,#cc2a26 88%,rgba(200,40,36,.5));border-radius:1px;box-shadow:0.5px 1.2px 0.5px rgba(0,0,0,.7)"></div>
<div style="left:344.70px;top:546.30px;width:54.60px;height:1.70px;background:linear-gradient(90deg,rgba(200,40,36,.5),#cc2a26 12%,#cc2a26 88%,rgba(200,40,36,.5));border-radius:1px;box-shadow:0.5px 1.2px 0.5px rgba(0,0,0,.7)"></div>
<div style="left:398.00px;top:509.60px;width:46.70px;height:1.70px;background:linear-gradient(90deg,rgba(200,40,36,.5),#cc2a26 12%,#cc2a26 88%,rgba(200,40,36,.5));border-radius:1px;box-shadow:0.5px 1.2px 0.5px rgba(0,0,0,.7)"></div>
<div style="left:452.70px;top:484.30px;width:65.10px;height:1.70px;background:linear-gradient(90deg,rgba(200,40,36,.5),#cc2a26 12%,#cc2a26 88%,rgba(200,40,36,.5));border-radius:1px;box-shadow:0.5px 1.2px 0.5px rgba(0,0,0,.7)"></div>
<div style="left:479.60px;top:513.80px;width:40.40px;height:1.70px;background:linear-gradient(90deg,rgba(200,40,36,.5),#cc2a26 12%,#cc2a26 88%,rgba(200,40,36,.5));border-radius:1px;box-shadow:0.5px 1.2px 0.5px rgba(0,0,0,.7)"></div>
<div style="left:440.00px;top:535.10px;width:36.70px;height:1.70px;background:linear-gradient(90deg,rgba(200,40,36,.5),#cc2a26 12%,#cc2a26 88%,rgba(200,40,36,.5));border-radius:1px;box-shadow:0.5px 1.2px 0.5px rgba(0,0,0,.7)"></div>
<div style="left:510.70px;top:543.60px;width:24.10px;height:1.70px;background:linear-gradient(90deg,rgba(200,40,36,.5),#cc2a26 12%,#cc2a26 88%,rgba(200,40,36,.5));border-radius:1px;box-shadow:0.5px 1.2px 0.5px rgba(0,0,0,.7)"></div>
<div style="left:544.70px;top:497.60px;width:36.90px;height:1.70px;background:linear-gradient(90deg,rgba(200,40,36,.5),#cc2a26 12%,#cc2a26 88%,rgba(200,40,36,.5));border-radius:1px;box-shadow:0.5px 1.2px 0.5px rgba(0,0,0,.7)"></div>
<div style="left:399.30px;top:571.80px;width:66.00px;height:1.70px;background:#c42a26;border-radius:1px;box-shadow:0.5px 1.2px 0.5px rgba(0,0,0,.7)"></div>
<div style="left:504.20px;top:571.80px;width:72.00px;height:1.70px;background:#c42a26;border-radius:1px;box-shadow:0.5px 1.2px 0.5px rgba(0,0,0,.7)"></div>
<span class="bf" style="left:21px;width:30px">20</span>
<span class="bf" style="left:40px;width:30px">25</span>
<span class="bf" style="left:57.7px;width:30px">31.5</span>
<span class="bf" style="left:77.2px;width:30px">40</span>
<span class="bf" style="left:97px;width:30px">50</span>
<span class="bf" style="left:114.5px;width:30px">63</span>
<span class="bf" style="left:132.75px;width:30px">80</span>
<span class="bf" style="left:149.75px;width:30px">100</span>
<span class="bf" style="left:167px;width:30px">125</span>
<span class="bf" style="left:182.5px;width:30px">160</span>
<span class="bf" style="left:198.5px;width:30px">200</span>
<span class="bf" style="left:218.5px;width:30px">250</span>
<span class="bf" style="left:239.5px;width:30px">315</span>
<span class="bf" style="left:257px;width:30px">400</span>
<span class="bf" style="left:273.5px;width:30px">500</span>
<span class="bf" style="left:293.5px;width:30px">630</span>
<span class="bf" style="left:308.5px;width:30px">800</span>
<span class="bf" style="left:329px;width:30px">1k</span>
<span class="bf" style="left:343.5px;width:30px">1.25k</span>
<span class="bf" style="left:363.5px;width:30px">1.6k</span>
<span class="bf" style="left:379px;width:30px">2k</span>
<span class="bf" style="left:398.5px;width:30px">2.5k</span>
<span class="bf" style="left:418px;width:30px">3.15k</span>
<span class="bf" style="left:435px;width:30px">4k</span>
<span class="bf" style="left:453px;width:30px">5k</span>
<span class="bf" style="left:471.5px;width:30px">6.3k</span>
<span class="bf" style="left:490px;width:30px">8k</span>
<span class="bf" style="left:507.5px;width:30px">10k</span>
<span class="bf" style="left:523px;width:30px">12.5k</span>
<span class="bf" style="left:538px;width:30px">16k</span>
<span class="bf" style="left:557.5px;width:30px">20k</span>
<div style="left:0.00px;top:587.00px;width:600.00px;height:8.00px;background:#f1f2f9;"></div>
<div style="left:4.70px;top:593.60px;width:2.60px;height:1.40px;background:#000;"></div>
<span class="hd" style="left:1.14px;top:1.00px;transform:scaleX(0.858);">Hz</span>
<span class="hd" style="left:31.50px;top:1.00px;transform:scaleX(0.909);">20</span>
<span class="hd" style="left:89.70px;top:1.00px;transform:scaleX(0.845);">40</span>
<span class="hd" style="left:120.00px;top:1.00px;transform:scaleX(0.909);">60</span>
<span class="hd" style="left:157.09px;top:1.00px;transform:scaleX(0.906);">100</span>
<span class="hd" style="left:206.30px;top:1.00px;transform:scaleX(0.853);">200</span>
<span class="hd" style="left:264.20px;top:1.00px;transform:scaleX(0.929);">400</span>
<span class="hd" style="left:296.70px;top:1.00px;transform:scaleX(0.929);">600</span>
<span class="hd" style="left:336.60px;top:1.00px;transform:scaleX(0.900);">1K</span>
<span class="hd" style="left:392.50px;top:1.00px;transform:scaleX(0.962);">2K</span>
<span class="hd" style="left:445.80px;top:1.00px;transform:scaleX(0.900);">4K</span>
<span class="hd" style="left:476.70px;top:1.00px;transform:scaleX(0.962);">6K</span>
<span class="hd" style="left:512.47px;top:1.00px;transform:scaleX(0.833);">10K</span>
<span class="hd" style="left:545.67px;top:1.00px;transform:scaleX(0.833);">16K</span>
<span class="hd" style="left:564.00px;top:1.00px;transform:scaleX(0.868);">20K</span>
<span class="lb" style="left:133.95px;top:17.30px;transform:scaleX(1.052);">Male</span>
<span class="lb" style="left:188.16px;top:30.70px;transform:scaleX(1.035);">Female</span>
<span class="lb" style="left:81.19px;top:49.70px;transform:scaleX(1.061);">Kick</span>
<span class="lb" style="left:76.40px;top:62.50px;transform:scaleX(0.995);">Tympani</span>
<span class="lb" style="left:104.40px;top:75.90px;transform:scaleX(0.979);">Toms</span>
<span class="lb" style="left:128.25px;top:89.20px;transform:scaleX(0.975);">Snare</span>
<span class="lb" style="left:147.75px;top:102.25px;transform:scaleX(1.011);">Congas</span>
<span class="lb" style="left:155.25px;top:115.30px;transform:scaleX(0.983);">Cymbals</span>
<span class="lb" style="left:37.50px;top:134.70px;transform:scaleX(0.962);">Tuba</span>
<span class="lb" style="left:47.27px;top:147.50px;transform:scaleX(1.030);">French Horn</span>
<span class="lb" style="left:29.76px;top:160.80px;transform:scaleX(1.042);">Bass Trombone</span>
<span class="lb" style="left:56.25px;top:174.00px;transform:scaleX(1.026);">Tenor Trombone</span>
<span class="lb" style="left:150.00px;top:187.00px;transform:scaleX(0.988);">Trumpet</span>
<span class="lb" style="left:457.50px;top:207.80px;transform:scaleX(1.021);">Contrabassoon</span>
<span class="lb" style="left:67.14px;top:221.30px;transform:scaleX(1.060);">Bassoon</span>
<span class="lb" style="left:114.20px;top:234.30px;transform:scaleX(1.033);">Tenor Sax</span>
<span class="lb" style="left:133.70px;top:247.30px;transform:scaleX(1.043);">Alto Sax</span>
<span class="lb" style="left:138.00px;top:259.80px;transform:scaleX(1.015);">Clarinet</span>
<span class="lb" style="left:192.60px;top:273.50px;transform:scaleX(1.050);">Oboe</span>
<span class="lb" style="left:201.92px;top:286.60px;transform:scaleX(1.080);">Flute</span>
<span class="lb" style="left:256.97px;top:299.50px;transform:scaleX(1.026);">Piccolo</span>
<span class="lb" style="left:34.94px;top:320.60px;transform:scaleX(1.056);">Bass</span>
<span class="lb" style="left:97.60px;top:333.40px;transform:scaleX(0.963);">Cello</span>
<span class="lb" style="left:149.00px;top:347.00px;transform:scaleX(0.977);">Viola</span>
<span class="lb" style="left:180.00px;top:359.50px;transform:scaleX(1.021);">Violin</span>
<span class="lb" style="left:111.00px;top:373.00px;transform:scaleX(1.000);">Guitar</span>
<span class="lb" style="left:32.79px;top:383.20px;transform:scaleX(1.008);">Harp</span>
<span class="lb" style="left:507.96px;top:403.40px;transform:scaleX(1.035);">Pipe Organ</span>
<span class="lb" style="left:192.00px;top:416.50px;transform:scaleX(1.011);">Standard 88-key Piano</span>
<span class="lb" style="left:54.21px;top:490.25px;transform:scaleX(1.038);">Rumble</span>
<span class="lb" style="left:24.20px;top:522.50px;transform:scaleX(1.000);">Chest/Thump</span>
<span class="lb" style="left:121.74px;top:510.80px;transform:scaleX(1.065);">Bottom</span>
<span class="lb" style="left:91.75px;top:542.75px;transform:scaleX(1.022);">AC/Ground</span>
<span class="lb" style="left:188.40px;top:528.50px;transform:scaleX(1.030);">Warmth</span>
<span class="lb" style="left:151.95px;top:560.50px;transform:scaleX(1.045);">Boom/Punch</span>
<span class="lb" style="left:222.46px;top:550.50px;transform:scaleX(1.043);">Fullness/Mud</span>
<span class="lb" style="left:292.92px;top:529.00px;transform:scaleX(1.077);">Honk</span>
<span class="lb" style="left:336.70px;top:498.30px;transform:scaleX(1.029);">Whack</span>
<span class="lb" style="left:356.00px;top:547.70px;transform:scaleX(1.017);">Tinny</span>
<span class="lb" style="left:400.70px;top:511.00px;transform:scaleX(1.053);">Crunch</span>
<span class="lb" style="left:460.00px;top:484.80px;transform:scaleX(1.021);">Sibilance</span>
<span class="lb" style="left:472.86px;top:515.50px;transform:scaleX(1.043);">Definition</span>
<span class="lb" style="left:443.57px;top:536.00px;transform:scaleX(1.127);">Edge</span>
<span class="lb" style="left:505.44px;top:545.20px;transform:scaleX(1.062);">Pierce</span>
<span class="lb" style="left:554.60px;top:499.00px;transform:scaleX(1.040);">Air</span>
<span class="lb" style="left:468.20px;top:564.40px;transform:scaleX(1.062);">Treble</span>
<span class="lb" style="left:218.38px;top:493.70px;transform:scaleX(1.025);">Middle C</span>
<span class="lb" style="left:277.40px;top:492.50px;transform:scaleX(0.888);">A</span>
<span class="lb" style="left:273.00px;top:505.60px;transform:scaleX(0.972);">440</span>
<span class="grp" style="left:0;top:0;transform:translate(16.80px,16.90px) rotate(90deg) scaleX(0.989)">Vocal</span>
<span class="grp" style="left:0;top:0;transform:translate(16.80px,64.67px) rotate(90deg) scaleX(1.034)">Percussion</span>
<span class="grp" style="left:0;top:0;transform:translate(16.80px,154.53px) rotate(90deg) scaleX(1.072)">Brass</span>
<span class="grp" style="left:0;top:0;transform:translate(16.80px,230.00px) rotate(90deg) scaleX(1.013)">Woodwinds</span>
<span class="grp" style="left:0;top:0;transform:translate(16.80px,342.40px) rotate(90deg) scaleX(1.038)">Strings</span>
</body></html>
